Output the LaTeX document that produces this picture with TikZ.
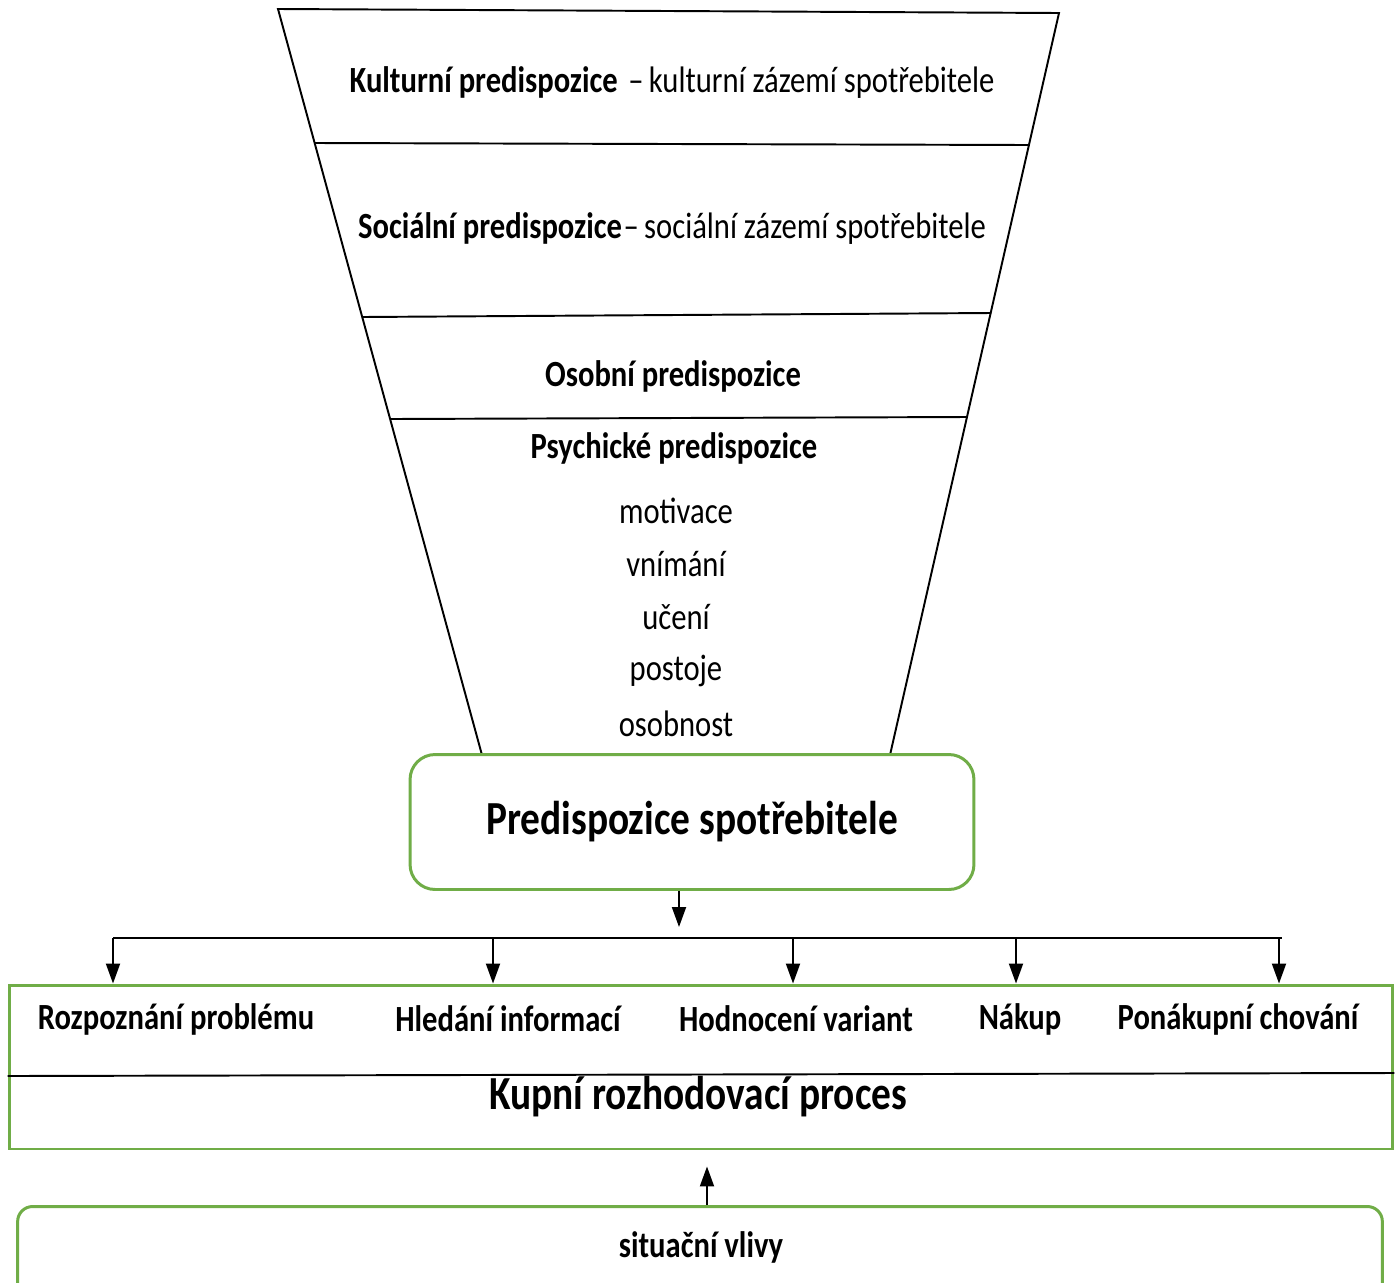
\documentclass[tikz,border=0pt]{standalone}
\usepackage{fontspec}
\setmainfont{Carlito}[FakeStretch=0.83]
\usepackage{xcolor}
\usetikzlibrary{arrows.meta, positioning}
\definecolor{boxgreen}{RGB}{112,173,71}
\tikzstyle{funnel} = [line width=1.1pt, black]
\tikzstyle{greenbox} = [draw=boxgreen, line width=1.7pt, fill=white, align=center]
\tikzstyle{layer} = [align=center, inner sep=0pt, font=\fontsize{21}{25}\selectfont]
\tikzstyle{item} = [align=center, inner sep=0pt, font=\fontsize{21}{25}\selectfont]
\tikzstyle{phase} = [align=center, inner sep=0pt, font=\fontsize{21}{25}\selectfont\bfseries]
\tikzstyle{arrow} = [-{Triangle[length=0.4cm, width=0.28cm]}, line width=1.1pt]

\begin{document}
\begin{tikzpicture}[x=0.02cm, y=-0.02cm]
\useasboundingbox (0,0) rectangle (1397,1282);

% Funnel outline and layer borders
\coordinate (ftl) at (278,9);
\coordinate (ftr) at (1059,13);
\coordinate (fbl) at (482,755);
\coordinate (fbr) at (890,755);
\draw[funnel] (fbl) -- (ftl) -- (ftr) -- (fbr);
\draw[funnel] (315,143) -- (1029,145);
\draw[funnel] (362,317) -- (991,313);
\draw[funnel] (390,419) -- (967,417);

% Layer texts
\node[layer] (kult) at (672,83) {\textbf{Kulturní predispozice}\hspace{6pt}--\hspace{3pt}kulturní zázemí spotřebitele};
\node[layer] (soc) at (672,229) {\textbf{Sociální predispozice}\hspace{1pt}--\hspace{3pt}sociální zázemí spotřebitele};
\node[layer, font=\fontsize{21}{25}\selectfont\bfseries] (osob) at (673,376) {Osobní predispozice};
\node[layer, font=\fontsize{21}{25}\selectfont\bfseries] (psych) at (674,448) {Psychické predispozice};
\foreach \t/\y [count=\i] in {motivace/511, vnímání/564, učení/617, postoje/671, osobnost/724}
  \node[item] (psy\i) at (676,\y) {\t};

% Consumer predispositions
\node[greenbox, rounded corners=0.5cm, minimum width=11.28cm, minimum height=2.7cm,
      font=\fontsize{27}{31}\selectfont\bfseries] (pred) at (692,822) {Predispozice spotřebitele};

% Buying decision process
\node[draw=boxgreen, line width=1.7pt, minimum width=27.68cm, minimum height=3.28cm] (proc) at (701,1067) {};
\draw[line width=1.1pt] ([yshift=-0.18cm]proc.west) -- ([yshift=-0.12cm]proc.east);
\node[phase] (rozp) at (176,1019) {Rozpoznání problému};
\node[phase] (hled) at (508,1019) {Hledání informací};
\node[phase] (hodn) at (796,1019) {Hodnocení variant};
\node[phase] (nak) at (1020,1019) {Nákup};
\node[phase] (ponak) at (1238,1019) {Ponákupní chování};
\node[phase, font=\fontsize{27}{31}\selectfont\bfseries] (kupni) at (698,1097) {Kupní rozhodovací proces};

% Situational influences
\node[greenbox, rounded corners=0.3cm, minimum width=27.3cm, minimum height=2.66cm] (sit) at (700,1273) {};
\node[phase] (situ) at (701,1247) {situační vlivy};

% Distribution line with arrows
\coordinate (busL) at (113,938);
\coordinate (busR) at (1282,938);
\draw[line width=1.1pt] (busL) -- (busR);
\foreach \x [count=\i] in {113,493,793,1016,1279} {
  \coordinate (bus\i) at (\x,938);
  \draw[arrow] (bus\i) -- (bus\i |- proc.north);
}
\draw[arrow, shorten >=0.22cm] ([xshift=-0.26cm]pred.south) -- ([xshift=-0.26cm]pred.south |- busL);
\draw[arrow, shorten >=0.32cm] ([xshift=0.14cm]sit.north) -- ([xshift=0.14cm]sit.north |- proc.south);

\end{tikzpicture}
\end{document}
